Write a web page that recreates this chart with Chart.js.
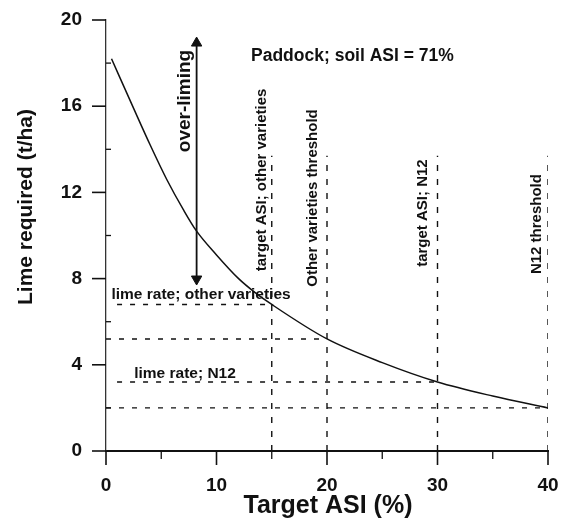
<!DOCTYPE html>
<html>
<head>
<meta charset="utf-8">
<title>Lime required vs target ASI</title>
<script src="https://cdn.jsdelivr.net/npm/chart.js@4.4.1/dist/chart.umd.min.js"></script>
<style>
  html, body { margin: 0; padding: 0; background: #fff; }
  #wrap { width: 572px; height: 526px; position: relative; }
</style>
</head>
<body>
<div id="wrap"><canvas id="limeChart"></canvas></div>
<script>
/* ---------------------------
   Data
--------------------------- */
// lime requirement curve, paddock with soil ASI = 71%
const targetAsi = [0.5, 2.5, 4, 5.5, 7, 8.2, 10, 12, 13.5, 15, 20, 25, 30, 35, 40];
const limeRequired = [18.2, 15.9, 14.2, 12.6, 11.2, 10.2, 9.1, 8.0, 7.35, 6.8, 5.2, 4.1, 3.2, 2.55, 2.0];

// vertical reference lines (target ASI / thresholds)
const refAsi = [15, 20, 30, 40];
const refTop = 13.7;

// horizontal lime-rate lines
const rateLime = [6.8, 5.2, 3.2, 2.0];
const rateStart = [1, 0, 1, 0];
const rateEnd = [15, 20, 30, 40];

// over-liming arrow
const arrowAsi = 8.2;
const arrowFrom = 7.9;
const arrowTo = 19.1;
const arrowHeads = [18.93, 7.98];

// axes
const xMajorTicks = [0, 10, 20, 30, 40];
const xMinorTicks = [5, 15, 25, 35];
const yMajorTicks = [0, 4, 8, 12, 16, 20];
const yMinorTicks = [2, 6, 10, 14, 18];

// annotations: text, x, y, rotation (deg), font size
const notes = [
  ["Paddock; soil ASI = 71%", 22.3, 18.33, 0, 17.5],
  ["over-liming", 7.15, 16.24, -90, 19],
  ["target ASI; other varieties", 14.1, 12.58, -90, 15],
  ["Other varieties threshold", 18.7, 11.74, -90, 15],
  ["target ASI; N12", 28.7, 11.04, -90, 15],
  ["N12 threshold", 39.0, 10.53, -90, 15],
  ["lime rate; other varieties", 8.6, 7.24, 0, 15.5],
  ["lime rate; N12", 7.15, 3.57, 0, 15.5]
];

const FONT = "'Liberation Sans', Arial, sans-serif";
const INK = "#111";

/* ---------------------------
   Datasets
--------------------------- */
const datasets = [];

datasets.push({
  data: targetAsi.map((x, i) => ({ x, y: limeRequired[i] })),
  showLine: true,
  borderColor: INK,
  borderWidth: 1.5,
  pointRadius: 0,
  cubicInterpolationMode: "monotone"
});

refAsi.forEach(x => {
  datasets.push({
    data: [{ x, y: 0 }, { x, y: refTop }],
    showLine: true,
    borderColor: INK,
    borderWidth: 1.4,
    borderDash: [6, 8],
    pointRadius: 0
  });
});

rateLime.forEach((y, i) => {
  datasets.push({
    data: [{ x: rateStart[i], y }, { x: rateEnd[i], y }],
    showLine: true,
    borderColor: INK,
    borderWidth: 1.4,
    borderDash: [5, 8],
    pointRadius: 0
  });
});

datasets.push({
  data: [{ x: arrowAsi, y: arrowFrom }, { x: arrowAsi, y: arrowTo }],
  showLine: true,
  borderColor: INK,
  borderWidth: 1.8,
  pointRadius: 0
});

datasets.push({
  data: arrowHeads.map(y => ({ x: arrowAsi, y })),
  showLine: false,
  pointStyle: "triangle",
  rotation: [0, 180],
  pointRadius: 6,
  backgroundColor: INK,
  borderColor: INK,
  borderWidth: 1
});

/* ---------------------------
   Plugin: ticks, titles, notes
--------------------------- */
const decorations = {
  id: "decorations",
  afterDatasetsDraw(chart) {
    const { ctx, scales: { x, y }, chartArea: a } = chart;
    ctx.save();
    ctx.strokeStyle = INK;

    ctx.lineWidth = 1.6;
    yMajorTicks.forEach(v => {
      const py = y.getPixelForValue(v);
      ctx.beginPath(); ctx.moveTo(a.left - 14, py); ctx.lineTo(a.left, py); ctx.stroke();
    });
    xMajorTicks.forEach(v => {
      const px = x.getPixelForValue(v);
      ctx.beginPath(); ctx.moveTo(px, a.bottom); ctx.lineTo(px, a.bottom + 14); ctx.stroke();
    });
    ctx.lineWidth = 1.3;
    yMinorTicks.forEach(v => {
      const py = y.getPixelForValue(v);
      ctx.beginPath(); ctx.moveTo(a.left, py); ctx.lineTo(a.left + 5, py); ctx.stroke();
    });
    xMinorTicks.forEach(v => {
      const px = x.getPixelForValue(v);
      ctx.beginPath(); ctx.moveTo(px, a.bottom); ctx.lineTo(px, a.bottom + 8); ctx.stroke();
    });

    ctx.fillStyle = INK;
    ctx.textAlign = "center";
    ctx.textBaseline = "middle";

    // axis titles
    ctx.font = `bold 21px ${FONT}`;
    ctx.save();
    ctx.translate(26, 207);
    ctx.rotate(-Math.PI / 2);
    ctx.fillText("Lime required (t/ha)", 0, 0);
    ctx.restore();
    ctx.font = `bold 25px ${FONT}`;
    ctx.fillText("Target ASI (%)", (a.left + a.right) / 2 + 1, 506);

    notes.forEach(([text, vx, vy, rot, size]) => {
      ctx.save();
      ctx.font = `bold ${size}px ${FONT}`;
      ctx.translate(x.getPixelForValue(vx), y.getPixelForValue(vy));
      ctx.rotate(rot * Math.PI / 180);
      ctx.fillText(text, 0, 0);
      ctx.restore();
    });
    ctx.restore();
  }
};

/* ---------------------------
   Chart
--------------------------- */
new Chart(document.getElementById("limeChart"), {
  type: "scatter",
  data: { datasets },
  plugins: [decorations],
  options: {
    responsive: true,
    maintainAspectRatio: false,
    animation: false,
    layout: { padding: { top: 20, right: 24, left: 0, bottom: 0 } },
    plugins: {
      legend: { display: false },
      tooltip: { enabled: false }
    },
    scales: {
      x: {
        type: "linear",
        min: 0,
        max: 40,
        afterFit: s => {
          s.height = 75;
          s.paddingLeft = 0;
          s.paddingRight = 0;
        },
        afterBuildTicks: s => { s.ticks = xMajorTicks.map(value => ({ value })); },
        grid: { display: false, drawTicks: false },
        border: { display: true, color: INK, width: 2 },
        ticks: {
          padding: 23,
          color: INK,
          font: { family: FONT, size: 19, weight: "bold" }
        }
      },
      y: {
        type: "linear",
        min: 0,
        max: 20,
        afterFit: s => {
          s.width = 106;
          s.paddingTop = 0;
          s.paddingBottom = 0;
        },
        afterBuildTicks: s => { s.ticks = yMajorTicks.map(value => ({ value })); },
        grid: { display: false, drawTicks: false },
        border: { display: true, color: "#333", width: 1.3 },
        ticks: {
          padding: 24,
          color: INK,
          font: { family: FONT, size: 19, weight: "bold" }
        }
      }
    }
  }
});
</script>
</body>
</html>
